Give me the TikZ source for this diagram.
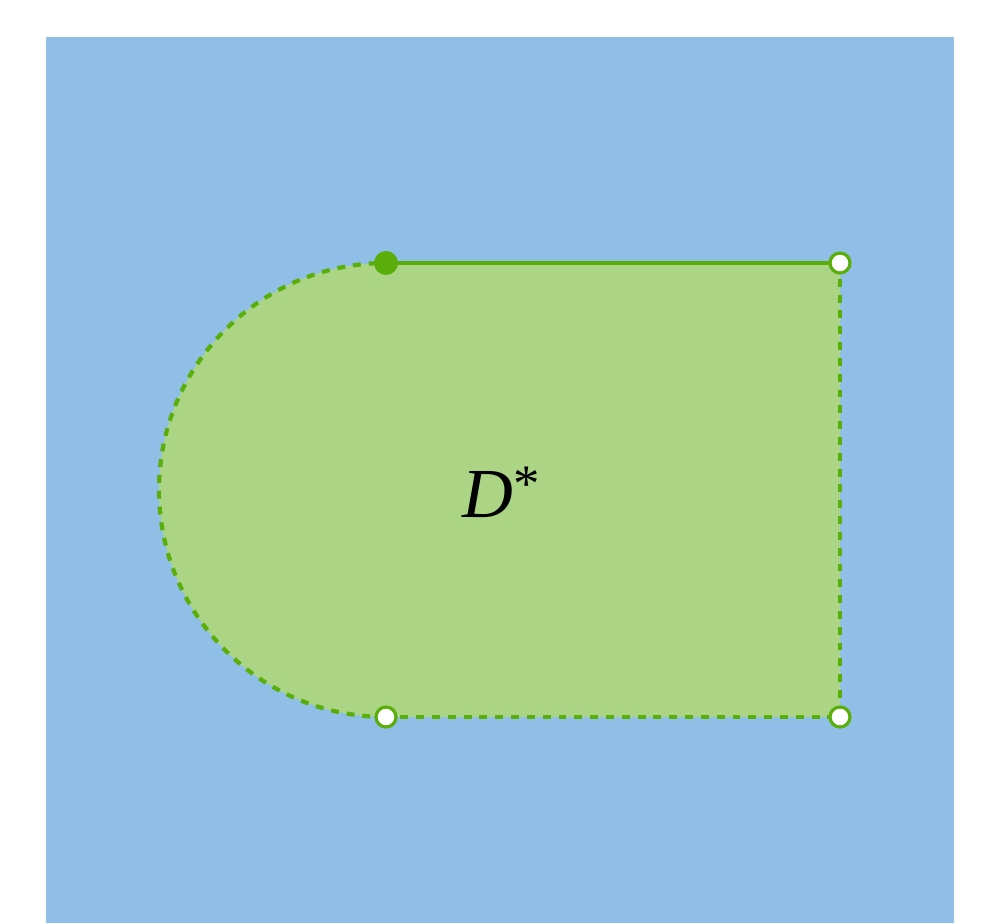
\documentclass[tikz,border=0pt]{standalone}
\usepackage{fontspec}
\usepackage{tikz}
\newfontfamily\regionfont{Liberation Serif}
\definecolor{sky}{HTML}{8FBEE6}
\definecolor{leaf}{HTML}{ABD584}
\definecolor{edge}{HTML}{5AAE0A}

\begin{document}
\begin{tikzpicture}[
  bound/.style={edge,line width=2.4pt},
  dashbound/.style={bound,dash pattern=on 4.5pt off 4.5pt},
  closedpt/.style={circle,fill=edge,inner sep=0pt,minimum size=0.48cm},
  openpt/.style={circle,draw=edge,line width=1.8pt,fill=white,inner sep=0pt,minimum size=0.4cm}]
  \useasboundingbox (0,0) rectangle (19.86,18.46);
  \fill[sky] (0.92,0) rectangle (19.08,17.72);
  % the region
  \coordinate (tl) at (7.72,13.2);
  \coordinate (tr) at (16.8,13.2);
  \coordinate (br) at (16.8,4.12);
  \coordinate (bl) at (7.72,4.12);
  \fill[leaf] (tl) -- (tr) -- (br) -- (bl) arc[start angle=-90,end angle=-270,radius=4.54] -- cycle;
  \draw[dashbound] (bl) arc[start angle=-90,end angle=-270,radius=4.54];
  \draw[dashbound] (tr) -- (br) -- (bl);
  \draw[bound] (tl) -- (tr);
  \node[closedpt] (ptl) at (tl) {};
  \node[openpt] (ptr) at (tr) {};
  \node[openpt] (pbr) at (br) {};
  \node[openpt] (pbl) at (bl) {};
  \node[font=\regionfont\fontsize{40}{44}\selectfont,anchor=base] (lbl) at (10.02,8.12)
    {\itshape D\raisebox{0.22em}{\fontsize{30}{32}\selectfont\upshape *}};
\end{tikzpicture}
\end{document}
